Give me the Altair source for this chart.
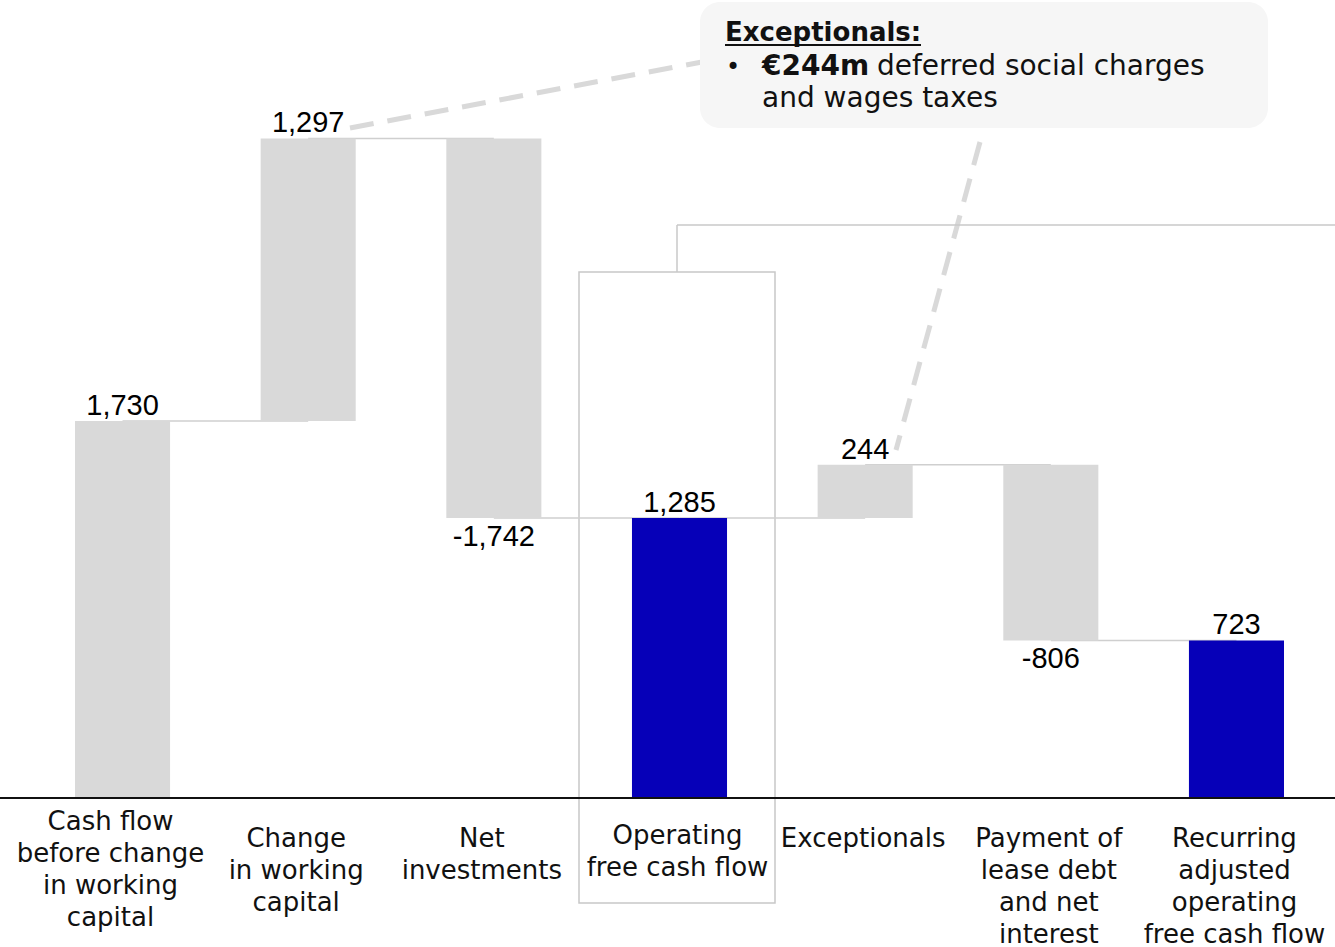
import altair as alt
import pandas as pd

# ---------------- data ----------------
categories = [
    "Cash flow before change in working capital",
    "Change in working capital",
    "Net investments",
    "Operating free cash flow",
    "Exceptionals",
    "Payment of lease debt and net interest",
    "Recurring adjusted operating free cash flow",
]
axis_labels = [
    "Cash flow|before change|in working|capital",
    "Change|in working|capital",
    "Net|investments",
    "Operating|free cash flow",
    "Exceptionals",
    "Payment of|lease debt|and net|interest",
    "Recurring|adjusted|operating|free cash flow",
]
values = [1730, 1297, -1742, 1285, 244, -806, 723]
kinds = ["start", "delta", "delta", "total", "delta", "delta", "total"]
value_labels = ["1,730", "1,297", "-1,742", "1,285", "244", "-806", "723"]

# ---------------- derived table ----------------
rows = []
running = 0
for i, (c, v, k) in enumerate(zip(categories, values, kinds)):
    if k == "delta":
        s, e = running, running + v
    else:
        s, e = 0, v
    running = e
    rows.append({
        "cat": c, "lab": axis_labels[i], "start": s, "end": e,
        "top": max(s, e), "bottom": min(s, e), "kind": k,
        "vlab": value_labels[i], "neg": v < 0, "idx": i,
    })
df = pd.DataFrame(rows)

conn = pd.DataFrame([
    {"cat": categories[i], "nxt": categories[i + 1], "level": rows[i]["end"]}
    for i in range(len(categories) - 1)
])

one = pd.DataFrame({"a": [0]})

GRAY = "#d9d9d9"
BLUE = "#0600b8"
LINE = "#cfcfcf"
FONT = "DejaVu Sans"
NUMFONT = "Liberation Sans"

xs = alt.Scale(domain=categories, range=[75, 1284], paddingInner=0.488, paddingOuter=0)
ys = alt.Scale(domain=[0, 3662], nice=False, zero=True)
X = alt.X("cat:N", scale=xs, axis=None, sort=categories)

# dashed callout lines
dash1 = alt.Chart(one).mark_rule(color=GRAY, strokeWidth=5, strokeDash=[24, 14]).encode(
    x=alt.value(350), y=alt.value(128), x2=alt.value(702), y2=alt.value(62))
dash2 = alt.Chart(one).mark_rule(color=GRAY, strokeWidth=5, strokeDash=[24, 14]).encode(
    x=alt.value(980), y=alt.value(142), x2=alt.value(896), y2=alt.value(450))

# callout box
cbox = alt.Chart(one).mark_rect(fill="#f6f6f6", cornerRadius=20).encode(
    x=alt.value(700), x2=alt.value(1268), y=alt.value(2), y2=alt.value(128))
ctitle = alt.Chart(one).mark_text(align="left", baseline="alphabetic", font=FONT,
                                  fontSize=26, fontWeight="bold", color="#111").encode(
    x=alt.value(725), y=alt.value(41), text=alt.value("Exceptionals:"))
culine = alt.Chart(one).mark_rule(color="#111", strokeWidth=2).encode(
    x=alt.value(725), x2=alt.value(921), y=alt.value(45))
cbullet = alt.Chart(one).mark_text(align="left", baseline="alphabetic", font=FONT,
                                   fontSize=24, color="#111").encode(
    x=alt.value(726), y=alt.value(75), text=alt.value("•"))
cbold = alt.Chart(one).mark_text(align="left", baseline="alphabetic", font=FONT,
                                 fontSize=28, fontWeight="bold", color="#111").encode(
    x=alt.value(762), y=alt.value(75), text=alt.value("€244m"))
cnorm = alt.Chart(one).mark_text(align="left", baseline="alphabetic", font=FONT,
                                 fontSize=28, color="#111").encode(
    x=alt.value(877), y=alt.value(75), text=alt.value("deferred social charges"))
cnorm2 = alt.Chart(one).mark_text(align="left", baseline="alphabetic", font=FONT,
                                  fontSize=28, color="#111").encode(
    x=alt.value(762), y=alt.value(107), text=alt.value("and wages taxes"))

# outline around operating free cash flow
obox = alt.Chart(one).mark_rect(fill=None, stroke="#c8c8c8", strokeWidth=1.5).encode(
    x=alt.value(579), x2=alt.value(775), y=alt.value(272), y2=alt.value(903))
ov = alt.Chart(one).mark_rule(color="#c8c8c8", strokeWidth=1.5).encode(
    x=alt.value(677), y=alt.value(272), y2=alt.value(225))
oh = alt.Chart(one).mark_rule(color="#c8c8c8", strokeWidth=1.5).encode(
    x=alt.value(677), x2=alt.value(1335), y=alt.value(225))

# connectors
connectors = alt.Chart(conn).mark_rule(color=LINE, strokeWidth=1.5).encode(
    x=alt.X("cat:N", scale=xs, axis=None, sort=categories),
    x2="nxt:N",
    y=alt.Y("level:Q", scale=ys, axis=None),
)

bars = alt.Chart(df).mark_bar().encode(
    x=X,
    y=alt.Y("start:Q", scale=ys, axis=None),
    y2="end:Q",
    color=alt.condition(alt.datum.kind == "total", alt.value(BLUE), alt.value(GRAY)),
)

pos_labels = alt.Chart(df).transform_filter(alt.datum.neg == False).mark_text(
    baseline="alphabetic", dy=-6, font=NUMFONT, fontSize=29, color="#000").encode(
    x=X, y=alt.Y("top:Q", scale=ys, axis=None), text="vlab:N")
neg_labels = alt.Chart(df).transform_filter(alt.datum.neg == True).mark_text(
    baseline="top", dy=5, font=NUMFONT, fontSize=29, color="#000").encode(
    x=X, y=alt.Y("bottom:Q", scale=ys, axis=None), text="vlab:N")

baseline = alt.Chart(one).mark_rule(color="#111", strokeWidth=2).encode(
    x=alt.value(0), x2=alt.value(1335), y=alt.datum(0, scale=ys))


def cat_layer(pred, ypix, dx):
    return alt.Chart(df).transform_filter(pred).mark_text(
        baseline="top", align="center", lineBreak="|", lineHeight=32, dx=dx,
        font=FONT, fontSize=26, color="#111").encode(
        x=X, y=alt.value(ypix), text="lab:N")


cat0 = cat_layer(alt.datum.idx == 0, 809, -12)
cat12 = cat_layer((alt.datum.idx >= 1) & (alt.datum.idx <= 2), 826, -12)
cat3 = cat_layer(alt.datum.idx == 3, 823, -2)
cat46 = cat_layer(alt.datum.idx >= 4, 826, -2)

chart = alt.layer(
    dash1, dash2, cbox, ctitle, culine, cbullet, cbold, cnorm, cnorm2,
    obox, ov, oh, connectors, bars, pos_labels, neg_labels, baseline,
    cat0, cat12, cat3, cat46,
).properties(
    width=1335, height=798,
    autosize=alt.AutoSizeParams(type="none"),
    padding={"left": 0, "top": 0, "right": 0, "bottom": 149},
    background="white",
).configure_view(stroke=None)

chart.save("out.html", embed_options={"renderer": "svg", "actions": False})
